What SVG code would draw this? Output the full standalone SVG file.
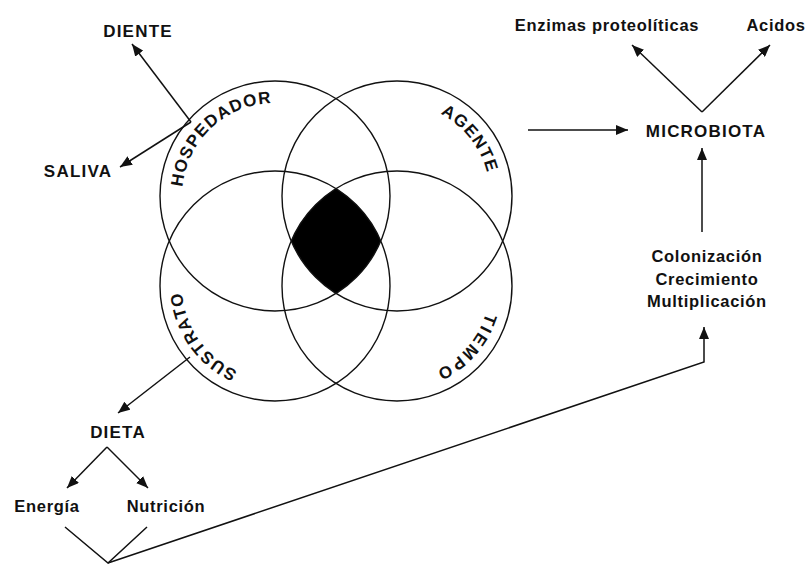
<svg xmlns="http://www.w3.org/2000/svg" width="809" height="565" viewBox="0 0 809 565">
<style>
.c{fill:none;stroke:#111;stroke-width:1.4}
.t{font-family:"Liberation Sans",Arial,Helvetica,sans-serif;font-weight:bold;font-size:17px;fill:#111;letter-spacing:1.2px}
.l{font-family:"Liberation Sans",Arial,Helvetica,sans-serif;font-weight:bold;font-size:16.5px;fill:#111;letter-spacing:0.7px}
.m{text-anchor:middle}
.a{fill:none;stroke:#111;stroke-width:1.5;marker-end:url(#ah)}
.p{fill:none;stroke:#111;stroke-width:1.5}
</style>
<defs>
<marker id="ah" viewBox="0 0 12 10" refX="12" refY="5" markerWidth="12" markerHeight="10" markerUnits="userSpaceOnUse" orient="auto">
<path d="M0,0 L12,5 L0,10 Z" fill="#111"/>
</marker>
<path id="pH" d="M182,196 A93,93 0 1 1 368,196 A93,93 0 1 1 182,196"/>
<path id="pA" d="M304,196 A93,93 0 1 1 490,196 A93,93 0 1 1 304,196"/>
<path id="pS" d="M275,193 A93,93 0 1 1 275,379 A93,93 0 1 1 275,193"/>
<path id="pT" d="M397,193 A93,93 0 1 1 397,379 A93,93 0 1 1 397,193"/>
</defs>
<rect width="809" height="565" fill="#fff"/>

<g id="core">
<path d="M336,188.5 A115,115 0 0 1 380.8,241 A115,115 0 0 1 336,293.5 A115,115 0 0 1 291.2,241 A115,115 0 0 1 336,188.5 Z" fill="#000"/>
</g>

<g id="hospedador">
<circle class="c" cx="275" cy="196" r="115"/>
<text class="t m"><textPath href="#pH" startOffset="76">HOSPEDADOR</textPath></text>
</g>
<g id="agente">
<circle class="c" cx="397" cy="196" r="115"/>
<text class="t m"><textPath href="#pA" startOffset="230">AGENTE</textPath></text>
</g>
<g id="sustrato">
<circle class="c" cx="275" cy="286" r="115"/>
<text class="t m"><textPath href="#pS" startOffset="381">SUSTRATO</textPath></text>
</g>
<g id="tiempo">
<circle class="c" cx="397" cy="286" r="115"/>
<text class="t m" style="letter-spacing:2.5px"><textPath href="#pT" startOffset="213">TIEMPO</textPath></text>
</g>

<g id="diente"><text class="t m" x="138" y="37">DIENTE</text></g>
<g id="saliva"><text class="t m" x="78" y="177">SALIVA</text></g>
<g id="microbiota"><text class="t m" x="706" y="137">MICROBIOTA</text></g>
<g id="enzimas"><text class="l m" x="607" y="31">Enzimas proteolíticas</text></g>
<g id="acidos"><text class="l m" x="776" y="31">Acidos</text></g>
<g id="colonizacion">
<text class="l m" x="707" y="262">Colonización</text>
<text class="l m" x="707" y="285">Crecimiento</text>
<text class="l m" x="707" y="307">Multiplicación</text>
</g>
<g id="dieta"><text class="t m" x="118" y="438">DIETA</text></g>
<g id="energia"><text class="l m" x="47" y="512">Energía</text></g>
<g id="nutricion"><text class="l m" x="166" y="512">Nutrición</text></g>

<g id="connectors">
<line class="a" x1="191" y1="122" x2="132" y2="44"/>
<line class="a" x1="191" y1="122" x2="120" y2="167"/>
<line class="a" x1="528" y1="130" x2="628" y2="130"/>
<line class="a" x1="702" y1="232" x2="702" y2="148"/>
<line class="a" x1="702" y1="112" x2="632" y2="45"/>
<line class="a" x1="702" y1="112" x2="770" y2="45"/>
<line class="a" x1="190" y1="357" x2="118" y2="413"/>
<line class="a" x1="107" y1="447" x2="67" y2="488"/>
<line class="a" x1="107" y1="447" x2="148" y2="488"/>
<polyline class="p" points="65,527 108,563 147,527"/>
<polyline class="a" points="108,563 704,362 704,327"/>
</g>
</svg>
